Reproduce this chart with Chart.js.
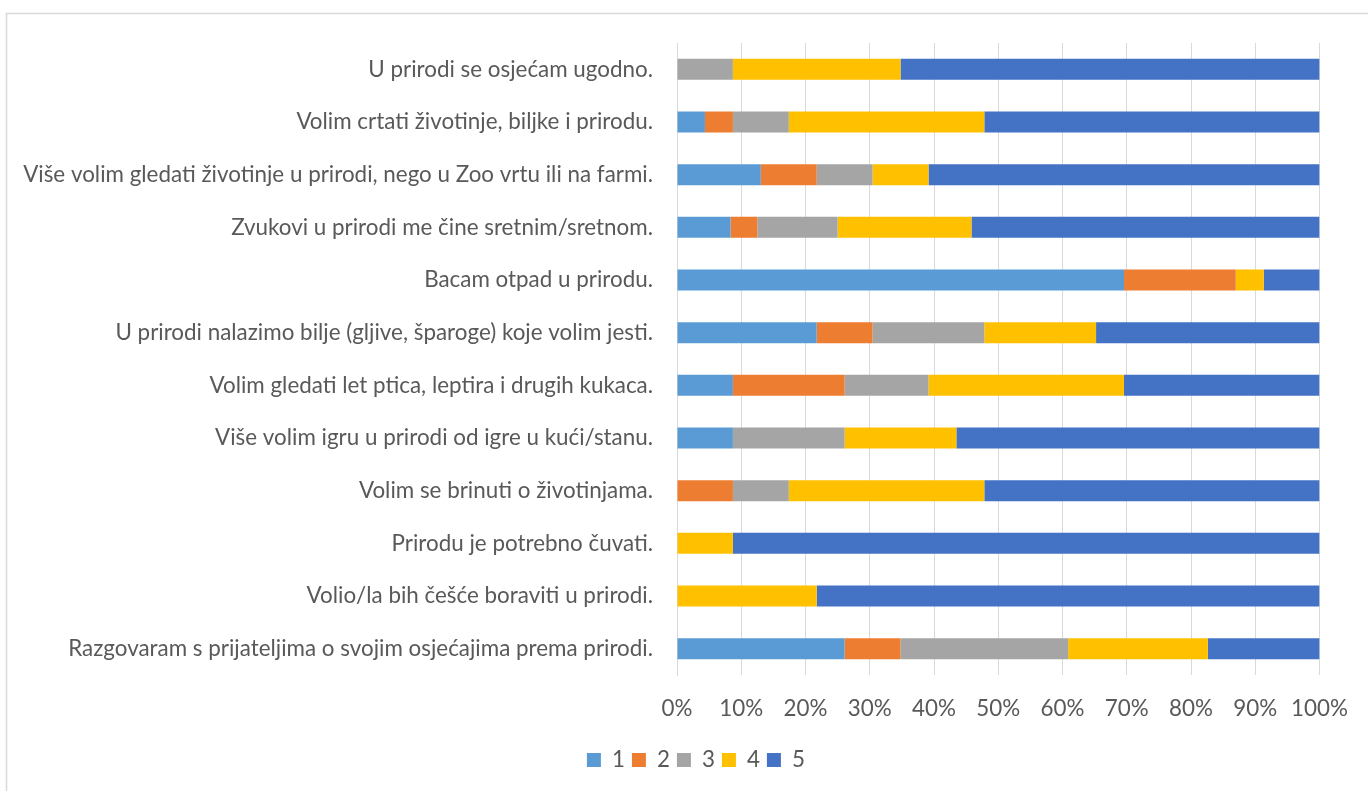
<!DOCTYPE html>
<html>
<head>
<meta charset="utf-8">
<script src="https://cdn.jsdelivr.net/npm/chart.js@4.4.1/dist/chart.umd.min.js"></script>
<style>
  html, body { margin: 0; padding: 0; background: #fff; }
  #wrap { width: 1368px; height: 791px; position: relative; }
</style>
</head>
<body>
<div id="wrap"><canvas id="c" width="1368" height="791"></canvas></div>
<script>
const categories = [
  "U prirodi se osjećam ugodno.",
  "Volim crtati životinje, biljke i prirodu.",
  "Više volim gledati životinje u prirodi, nego u Zoo vrtu ili na farmi.",
  "Zvukovi u prirodi me čine sretnim/sretnom.",
  "Bacam otpad u prirodu.",
  "U prirodi nalazimo bilje (gljive, šparoge) koje volim jesti.",
  "Volim gledati let ptica, leptira i drugih kukaca.",
  "Više volim igru u prirodi od igre u kući/stanu.",
  "Volim se brinuti o životinjama.",
  "Prirodu je potrebno čuvati.",
  "Volio/la bih češće boraviti u prirodi.",
  "Razgovaram s prijateljima o svojim osjećajima prema prirodi."
];
const seriesNames = ["1", "2", "3", "4", "5"];
const values1 = [0, 4.35, 13.04, 8.33, 69.57, 21.74, 8.70, 8.70, 0, 0, 0, 26.09];
const values2 = [0, 4.35, 8.70, 4.17, 17.39, 8.70, 17.39, 0, 8.70, 0, 0, 8.70];
const values3 = [8.70, 8.70, 8.70, 12.50, 0, 17.39, 13.04, 17.39, 8.70, 0, 0, 26.09];
const values4 = [26.09, 30.43, 8.70, 20.83, 4.35, 17.39, 30.43, 17.39, 30.43, 8.70, 21.74, 21.74];
const values5 = [65.22, 52.17, 60.87, 54.17, 8.70, 34.78, 30.43, 56.52, 52.17, 91.30, 78.26, 17.39];
const colors = ["#5B9BD5", "#ED7D31", "#A5A5A5", "#FFC000", "#4472C4"];
const xTicks = [0, 10, 20, 30, 40, 50, 60, 70, 80, 90, 100];

const FAMILY = "Lato";
const longest = categories.reduce((a, b) => a.length > b.length ? a : b);
const mctx = document.createElement("canvas").getContext("2d");
mctx.font = "100px " + FAMILY;
const fontSize = Math.round(100 * 629 / mctx.measureText(longest).width * 10) / 10;
mctx.font = fontSize + "px " + FAMILY;
const oneW = mctx.measureText("1").width;
const BOX = 14;
const legendPad = Math.max(2, 45 - BOX - fontSize / 2 - oneW);
const legendTop = 760 - legendPad - fontSize / 2;
const plotBottom = 675;
const xAxisH = legendTop - plotBottom;
const legendH = Math.max(fontSize, BOX) + legendPad + 10;
const bottomPad = 791 - legendTop - legendH;
const legendCenter = 696;

const textColor = "#595959";
const gridColor = "#D9D9D9";

const allValues = [values1, values2, values3, values4, values5];
const datasets = seriesNames.map((n, i) => ({
  label: n,
  data: allValues[i],
  backgroundColor: colors[i],
  borderWidth: 0,
  barPercentage: 0.4,
  categoryPercentage: 1.0
}));

const framePlugin = {
  id: "frame",
  beforeDraw(chart) {
    const ctx = chart.ctx;
    ctx.save();
    ctx.fillStyle = "#fff";
    ctx.fillRect(0, 0, chart.width, chart.height);
    ctx.strokeStyle = gridColor;
    ctx.lineWidth = 1.5;
    ctx.strokeRect(6.5, 13.5, chart.width + 20, chart.height + 20);
    ctx.restore();
  },
  afterLayout(chart) {
    const lg = chart.legend;
    if (!lg) return;
    const shift = legendCenter - (lg.left + lg.right) / 2;
    lg.left += shift;
    lg.right += shift;
  }
};

new Chart(document.getElementById("c"), {
  type: "bar",
  data: { labels: categories, datasets },
  plugins: [framePlugin],
  options: {
    indexAxis: "y",
    responsive: false,
    animation: false,
    layout: { padding: { top: 43, right: 48, left: 0, bottom: bottomPad } },
    font: { family: FAMILY },
    plugins: {
      legend: {
        position: "bottom",
        labels: {
          color: textColor,
          font: { family: FAMILY, size: fontSize },
          boxWidth: BOX,
          boxHeight: BOX,
          padding: legendPad
        }
      },
      tooltip: { enabled: false }
    },
    scales: {
      x: {
        stacked: true,
        min: 0,
        max: 100,
        afterBuildTicks(scale) { scale.ticks = xTicks.map(v => ({ value: v })); },
        afterFit(scale) { scale.height = xAxisH; },
        grid: { color: gridColor, lineWidth: 1, drawTicks: false },
        border: { display: false },
        ticks: {
          color: textColor,
          font: { family: FAMILY, size: fontSize },
          padding: 20,
          callback: v => v + "%"
        }
      },
      y: {
        stacked: true,
        afterFit(scale) { scale.width = 677; },
        grid: { display: false, drawTicks: false },
        border: { display: true, color: gridColor, width: 1 },
        ticks: {
          color: textColor,
          font: { family: FAMILY, size: fontSize },
          padding: 24,
          autoSkip: false
        }
      }
    }
  }
});
</script>
</body>
</html>
